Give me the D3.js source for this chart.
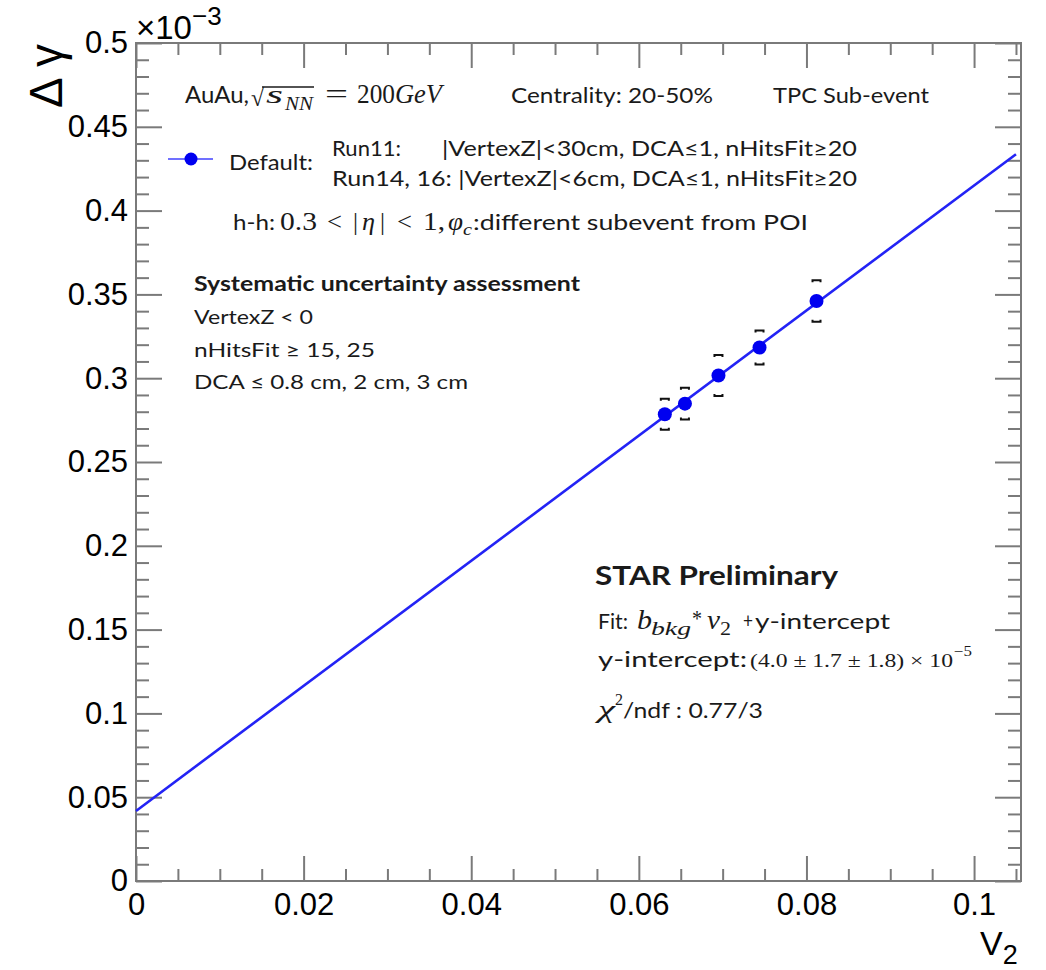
<!DOCTYPE html>
<html>
<head>
<meta charset="utf-8">
<script src="https://cdn.jsdelivr.net/npm/d3@7"></script>
<style>
body { margin: 0; background: #fff; }
text { fill: #1a1a1a; }
.tick text { fill: #000; }
</style>
</head>
<body>
<div id="chart"></div>
<script>
// data (y in units of 1e-3)
const v2 = [0.0631, 0.0655, 0.0695, 0.0744, 0.0812];
const dGamma = [0.2785, 0.2848, 0.3016, 0.3183, 0.3461];
const sysErr = [0.0092, 0.0095, 0.0122, 0.0101, 0.0124];
const fitPars = [0.0418, 3.732];      // intercept, slope
const fitRange = [0, 0.105];
const xTicks = [0, 0.02, 0.04, 0.06, 0.08, 0.1];
const yTicks = [0, 0.05, 0.1, 0.15, 0.2, 0.25, 0.3, 0.35, 0.4, 0.45, 0.5];

const W = 1046, H = 970;
const m = {left: 136, top: 43, right: 25, bottom: 89};
const w = W - m.left - m.right, h = H - m.top - m.bottom;

const svg = d3.select("#chart").append("svg")
    .attr("width", W).attr("height", H);
const g = svg.append("g").attr("transform", "translate(" + m.left + "," + m.top + ")");

const x = d3.scaleLinear().domain([0, 0.1056]).range([0, w]);
const y = d3.scaleLinear().domain([0, 0.5]).range([h, 0]);

const xMinor = d3.range(0, 0.1056, 0.005).filter(d => Math.abs(d / 0.02 - Math.round(d / 0.02)) > 1e-6);
const yMinor = d3.range(0, 0.5, 0.01).filter(d => Math.abs(d / 0.05 - Math.round(d / 0.05)) > 1e-6);

const fmt = d => d === 0 ? "0" : String(+d.toFixed(3));
const axisCol = "#7a7a7a";

function styleAxis(sel) {
    sel.select(".domain").remove();
    sel.selectAll(".tick line").attr("stroke", axisCol).attr("stroke-width", 2);
    sel.selectAll(".tick text").style("font-family", "Liberation Sans, Arial, sans-serif").style("font-size", "31px");
}

// bottom + top
g.append("g").attr("transform", "translate(0," + h + ")")
    .call(d3.axisBottom(x).tickValues(xTicks).tickSize(-25).tickPadding(12).tickFormat(fmt)).call(styleAxis);
g.append("g").attr("transform", "translate(0," + h + ")")
    .call(d3.axisBottom(x).tickValues(xMinor).tickSize(-12).tickFormat("")).call(styleAxis);
g.append("g")
    .call(d3.axisTop(x).tickValues(xTicks).tickSize(-25).tickFormat("")).call(styleAxis);
g.append("g")
    .call(d3.axisTop(x).tickValues(xMinor).tickSize(-12).tickFormat("")).call(styleAxis);

// left + right
g.append("g")
    .call(d3.axisLeft(y).tickValues(yTicks).tickSize(-26).tickPadding(8).tickFormat(fmt)).call(styleAxis);
g.append("g")
    .call(d3.axisLeft(y).tickValues(yMinor).tickSize(-13).tickFormat("")).call(styleAxis);
g.append("g").attr("transform", "translate(" + w + ",0)")
    .call(d3.axisRight(y).tickValues(yTicks).tickSize(-26).tickFormat("")).call(styleAxis);
g.append("g").attr("transform", "translate(" + w + ",0)")
    .call(d3.axisRight(y).tickValues(yMinor).tickSize(-13).tickFormat("")).call(styleAxis);

// frame
g.append("rect").attr("width", w).attr("height", h)
    .attr("fill", "none").attr("stroke", axisCol).attr("stroke-width", 2);

// exponent label
const ex = svg.append("text").attr("x", m.left).attr("y", 39)
    .style("font-family", "Liberation Sans, Arial, sans-serif").style("font-size", "33px").style("fill", "#000");
ex.append("tspan").text("×10");
ex.append("tspan").attr("dy", -14).style("font-size", "26px").text("−3");

// axis titles
svg.append("text")
    .attr("transform", "translate(62,44) rotate(-90)")
    .attr("text-anchor", "end")
    .style("font-family", "Liberation Sans, Arial, sans-serif").style("font-size", "46px").style("fill", "#000")
    .text("Δ γ");
const xt = svg.append("text").attr("x", 980).attr("y", 955)
    .style("font-family", "Liberation Sans, Arial, sans-serif").style("font-size", "34px").style("fill", "#000");
xt.append("tspan").text("V");
xt.append("tspan").attr("dy", 9).style("font-size", "27px").text("2");

// fit line
const fitLine = d3.line().x(d => x(d)).y(d => y(fitPars[0] + fitPars[1] * d));
g.append("path").datum(fitRange).attr("d", fitLine)
    .attr("fill", "none").attr("stroke", "#2323f5").attr("stroke-width", 2.6);

// systematic brackets
const pts = v2.map((d, i) => ({x: d, y: dGamma[i], s: sysErr[i]}));
g.selectAll(".sysT").data(pts).enter().append("path")
    .attr("d", d => { const px = x(d.x), py = y(d.y + d.s); return "M" + (px - 4) + "," + (py + 2) + "V" + py + "H" + (px + 4) + "V" + (py + 2); })
    .attr("fill", "none").attr("stroke", "#111").attr("stroke-width", 2);
g.selectAll(".sysB").data(pts).enter().append("path")
    .attr("d", d => { const px = x(d.x), py = y(d.y - d.s); return "M" + (px - 4) + "," + (py - 2) + "V" + py + "H" + (px + 4) + "V" + (py - 2); })
    .attr("fill", "none").attr("stroke", "#111").attr("stroke-width", 2);

// markers
g.selectAll("circle.pt").data(pts).enter().append("circle")
    .attr("class", "pt")
    .attr("cx", d => x(d.x)).attr("cy", d => y(d.y)).attr("r", 7)
    .attr("fill", "#0000f0");

// ---- annotations ----
const sans = "Lato, 'Open Sans', sans-serif";
const serif = "'Liberation Serif', 'DejaVu Serif', serif";
function txt(px, py, s, o) {
    o = o || {};
    const t = svg.append("text").attr("x", px).attr("y", py)
        .style("font-family", o.ff || sans)
        .style("font-size", (o.fs || 21) + "px")
        .style("font-weight", o.fw || "normal")
        .style("font-style", o.it ? "italic" : "normal")
        .text(s);
    if (o.w) t.attr("textLength", o.w).attr("lengthAdjust", "spacingAndGlyphs");
    return t;
}

// line 1
txt(185, 103, "AuAu,", {fs: 23, w: 64});
txt(251, 106, "√", {ff: serif, fs: 24, w: 13});
svg.append("line").attr("x1", 262).attr("x2", 314).attr("y1", 87).attr("y2", 87)
    .attr("stroke", "#1a1a1a").attr("stroke-width", 1.5);
txt(266, 103, "s", {ff: serif, fs: 25, it: true, w: 17});
txt(285, 110, "NN", {ff: serif, fs: 18, it: true, w: 28});
txt(325, 103, "=", {ff: serif, fs: 28, w: 23});
txt(357, 103, "200", {ff: serif, fs: 28, w: 38});
txt(395, 103, "GeV", {ff: serif, fs: 28, it: true, w: 47});
txt(511, 103, "Centrality: 20-50%", {fs: 22, w: 202});
txt(773, 103, "TPC Sub-event", {fs: 22, w: 156});

// legend
svg.append("line").attr("x1", 168).attr("x2", 213).attr("y1", 159).attr("y2", 159)
    .attr("stroke", "#7070ff").attr("stroke-width", 2);
svg.append("circle").attr("cx", 191).attr("cy", 159).attr("r", 6.5).attr("fill", "#0000f0");
txt(229, 170, "Default:", {fs: 22, w: 84});
txt(332, 156, "Run11:", {fs: 22, w: 69});
txt(442, 156, "|VertexZ|<30cm, DCA≤1, nHitsFit≥20", {fs: 22, w: 415});
txt(332, 186, "Run14, 16: |VertexZ|<6cm, DCA≤1, nHitsFit≥20", {fs: 22, w: 525});

// h-h line
txt(233, 230, "h-h:", {fs: 22, w: 42});
txt(280, 230, "0.3", {ff: serif, fs: 25, w: 37});
txt(327, 230, "<", {ff: serif, fs: 25, w: 15});
txt(353, 230, "|", {ff: serif, fs: 25, w: 5});
txt(362, 230, "η", {ff: serif, fs: 25, it: true, w: 13});
txt(380, 230, "|", {ff: serif, fs: 25, w: 5});
txt(397, 230, "<", {ff: serif, fs: 25, w: 15});
txt(423, 230, "1,", {ff: serif, fs: 25, w: 22});
txt(448, 230, "φ", {ff: serif, fs: 25, it: true, w: 15});
txt(463, 235, "c", {ff: serif, fs: 17, it: true, w: 9});
txt(473, 230, ":different subevent from POI", {fs: 22, w: 335});

// systematics block
txt(194, 291, "Systematic uncertainty assessment", {fs: 20, fw: "bold", w: 386});
txt(194, 324, "VertexZ < 0", {fs: 20, w: 119});
txt(194, 357, "nHitsFit ≥ 15, 25", {fs: 20, w: 181});
txt(194, 389, "DCA ≤ 0.8 cm, 2 cm, 3 cm", {fs: 20, w: 274});

// STAR block
txt(595, 585, "STAR Preliminary", {fs: 27, fw: "bold", w: 243});
txt(598, 629, "Fit:", {fs: 22, w: 30});
txt(637, 629, "b", {ff: serif, fs: 27, it: true, w: 15});
txt(651, 635, "bkg", {ff: serif, fs: 19, it: true, w: 40});
txt(692, 626, "*", {ff: serif, fs: 24, w: 10});
txt(707, 629, "v", {ff: serif, fs: 27, it: true, w: 13});
txt(720, 635, "2", {ff: serif, fs: 19, w: 11});
txt(743, 628, "+", {fs: 22, w: 10});
txt(755, 629, "y-intercept", {fs: 22, w: 135});
txt(598, 667, "y-intercept:", {fs: 22, w: 149});
txt(750, 667, "(4.0 ± 1.7 ± 1.8) × 10", {ff: serif, fs: 19, w: 203});
txt(954, 656, "−5", {ff: serif, fs: 14, w: 18});
txt(598, 718, "χ", {ff: serif, fs: 26, it: true, w: 17});
txt(615, 705, "2", {ff: serif, fs: 16, w: 8});
txt(623, 718, "/ndf : 0.77/3", {fs: 22, w: 140});
</script>
</body>
</html>
